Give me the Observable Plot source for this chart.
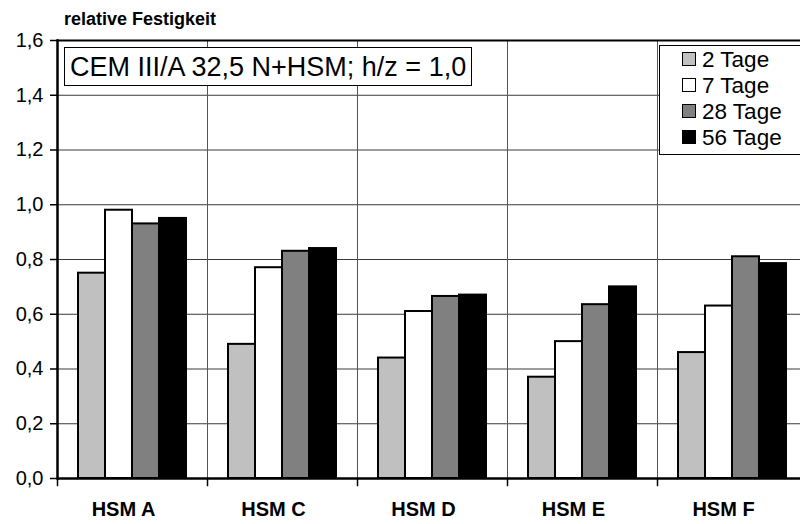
<!DOCTYPE html>
<html>
<head>
<meta charset="utf-8">
<script src="https://cdn.jsdelivr.net/npm/d3@7"></script>
<script src="https://cdn.jsdelivr.net/npm/@observablehq/plot@0.6"></script>
<style>
  html, body { margin: 0; padding: 0; background: #fff; overflow: hidden; }
  body { font-family: "Liberation Sans", Arial, sans-serif; color: #000; }
  #wrap { position: relative; width: 800px; height: 524px; }
  #title { position: absolute; left: 64px; top: 9px; font-size: 18px; font-weight: bold; }
  #chart { position: absolute; left: 0; top: 20px; }
  #note {
    position: absolute; left: 64px; top: 47px; width: 401px; height: 37px;
    border: 1px solid #000; background: #fff; font-size: 27px; line-height: 38px;
    padding-left: 5px; white-space: nowrap;
  }
  #legend {
    position: absolute; left: 659px; top: 45px; width: 150px; height: 108px;
    border: 1px solid #000; background: #fff;
  }
  .item { position: absolute; left: 22px; height: 26px; font-size: 22.5px; line-height: 26px; white-space: nowrap; }
  .item span.sw {
    display: inline-block; width: 12px; height: 12px; border: 1.5px solid #000;
    vertical-align: middle; margin-right: 6px; position: relative; top: -2px;
  }
</style>
</head>
<body>
<div id="wrap">
  <div id="chart"></div>
  <div id="title">relative Festigkeit</div>
  <div id="note">CEM III/A 32,5 N+HSM; h/z = 1,0</div>
  <div id="legend"></div>
</div>
<script>
// Mixtures on the x axis, curing ages as series
const categories = ["HSM A", "HSM C", "HSM D", "HSM E", "HSM F"];
const series = ["2 Tage", "7 Tage", "28 Tage", "56 Tage"];
const seriesColors = ["#c0c0c0", "#ffffff", "#808080", "#000000"];

// relative strength per series, one value per mixture
const tage2  = [0.75, 0.49, 0.44, 0.37, 0.46];
const tage7  = [0.98, 0.77, 0.61, 0.50, 0.63];
const tage28 = [0.93, 0.83, 0.665, 0.635, 0.81];
const tage56 = [0.95, 0.84, 0.67, 0.70, 0.785];

const yTicks = [0, 0.2, 0.4, 0.6, 0.8, 1.0, 1.2, 1.4, 1.6];
const gridTicks = [0.2, 0.4, 0.6, 0.8, 1.0, 1.2, 1.4];

const valuesBySeries = [tage2, tage7, tage28, tage56];
const rows = [];
series.forEach((s, j) => {
  categories.forEach((c, i) => rows.push({cat: c, series: s, value: valuesBySeries[j][i]}));
});

const H = 504, MT = 20, MB = 46;
const fmt = d => d.toFixed(1).replace(".", ",");

const chart = Plot.plot({
  width: 800,
  height: H,
  marginTop: MT,
  marginBottom: MB,
  marginLeft: 57,
  marginRight: -7,
  style: {fontFamily: "'Liberation Sans', Arial, sans-serif", color: "#000", background: "transparent"},
  fx: {domain: categories, padding: 0, label: null},
  x: {domain: series, paddingInner: 0, paddingOuter: 0.745, axis: null},
  y: {domain: [0, 1.6], axis: null},
  color: {domain: series, range: seriesColors},
  marks: [
    Plot.ruleY(gridTicks, {stroke: "#3a3a3a", strokeWidth: 1}),
    Plot.frame({anchor: "left", stroke: "#555", strokeWidth: 1}),
    Plot.barY(rows, {fx: "cat", x: "series", y: "value", fill: "series", stroke: "#000", strokeWidth: 2}),
    Plot.ruleY([1.6], {stroke: "#000", strokeWidth: 2}),
    Plot.ruleY([0], {stroke: "#000", strokeWidth: 2.5}),
    Plot.frame({anchor: "left", insetTop: H - MT - MB, insetBottom: -7, stroke: "#000", strokeWidth: 1.5}),
    Plot.frame({anchor: "left", facetAnchor: "left", stroke: "#000", strokeWidth: 2.5}),
    Plot.axisY({ticks: yTicks, tickFormat: fmt, tickSize: 7, tickPadding: 7, fontSize: 20, label: null, stroke: "#000", strokeWidth: 1.5}),
    Plot.axisFx({anchor: "bottom", label: null, tickSize: 0, tickPadding: 23, dx: -9, fontSize: 20, fontWeight: "bold"})
  ]
});
document.getElementById("chart").appendChild(chart);

// legend entries
const legend = document.getElementById("legend");
const rowTops = [1, 27, 53, 79];
series.forEach((s, j) => {
  const item = document.createElement("div");
  item.className = "item";
  item.style.top = rowTops[j] + "px";
  const sw = document.createElement("span");
  sw.className = "sw";
  sw.style.background = seriesColors[j];
  item.appendChild(sw);
  item.appendChild(document.createTextNode(s));
  legend.appendChild(item);
});
</script>
</body>
</html>
